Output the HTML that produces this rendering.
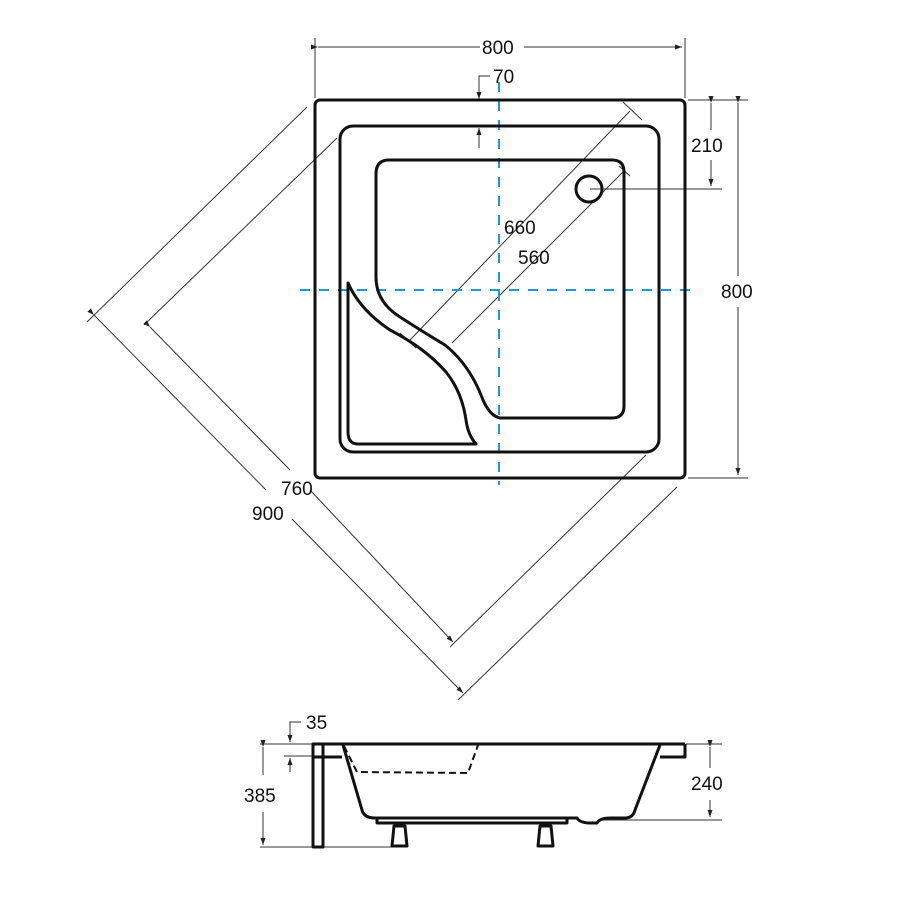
<!DOCTYPE html>
<html><head><style>body{margin:0;background:#fff}svg{display:block}text{font-family:"Liberation Sans",sans-serif;font-size:19px;fill:#111}</style></head>
<body>
<svg width="900" height="900" viewBox="0 0 900 900" xmlns="http://www.w3.org/2000/svg">
<defs><marker id="a" markerWidth="8" markerHeight="8" refX="7" refY="4" orient="auto" markerUnits="userSpaceOnUse"><path d="M0,1.5 L7,4 L0,6.5z" fill="#222"/></marker></defs>
<g stroke="#333" stroke-width="1" fill="none">
<!-- top 800 -->
<line x1="315" y1="38" x2="315" y2="98"/><line x1="685" y1="38" x2="685" y2="98"/>
<line x1="318" y1="47" x2="480" y2="47" marker-start="url(#a)"/><line x1="524" y1="47" x2="682" y2="47" marker-end="url(#a)"/>
<!-- 70 -->
<path d="M490,76 L479,76 L479,99" marker-end="url(#a)"/>
<line x1="479" y1="148" x2="479" y2="128" marker-end="url(#a)"/>
<!-- right 800 -->
<line x1="688" y1="100" x2="748" y2="100"/><line x1="688" y1="478" x2="748" y2="478"/>
<line x1="738" y1="103" x2="738" y2="276" marker-start="url(#a)"/><line x1="738" y1="307" x2="738" y2="475" marker-end="url(#a)"/>
<!-- 210 -->
<line x1="700" y1="100" x2="720" y2="100"/>
<line x1="590" y1="189" x2="722" y2="189"/>
<line x1="711" y1="103" x2="711" y2="130" marker-start="url(#a)"/><line x1="711" y1="160" x2="711" y2="186" marker-end="url(#a)"/>
<!-- diag 660 / 560 -->
<line x1="623" y1="102" x2="642" y2="120"/>
<line x1="630" y1="111" x2="410" y2="340"/>
<line x1="400" y1="333" x2="416" y2="348"/>
<line x1="625" y1="170" x2="452" y2="343"/>
<line x1="619" y1="166" x2="630" y2="176"/>
<!-- 900/760 extension -->
<line x1="307" y1="107" x2="87" y2="322"/>
<line x1="337" y1="138" x2="144" y2="325"/>
<line x1="646" y1="455" x2="450" y2="647"/>
<line x1="677" y1="487" x2="458" y2="700"/>
<!-- 760 dim -->
<line x1="150" y1="327" x2="290" y2="470" marker-start="url(#a)"/>
<line x1="310" y1="490" x2="453" y2="642" marker-end="url(#a)"/>
<!-- 900 dim -->
<line x1="94" y1="315" x2="266" y2="490" marker-start="url(#a)"/>
<line x1="292" y1="519" x2="463" y2="693" marker-end="url(#a)"/>
<!-- bottom dims -->
<path d="M301,722 L290,722 L290,742" marker-end="url(#a)"/>
<line x1="260" y1="744" x2="312" y2="744"/><line x1="284" y1="756" x2="312" y2="756"/>
<line x1="290" y1="772" x2="290" y2="758" marker-end="url(#a)"/>
<line x1="263" y1="747" x2="263" y2="775" marker-start="url(#a)"/><line x1="263" y1="812" x2="263" y2="845" marker-end="url(#a)"/>
<line x1="260" y1="847" x2="392" y2="847"/>
<line x1="686" y1="744" x2="722" y2="744"/><line x1="600" y1="820" x2="722" y2="820"/>
<line x1="710" y1="747" x2="710" y2="768" marker-start="url(#a)"/><line x1="710" y1="800" x2="710" y2="817" marker-end="url(#a)"/>
</g>
<g stroke="#1a9ad6" stroke-width="2" stroke-dasharray="10,9" fill="none">
<line x1="499" y1="82" x2="499" y2="485"/>
<line x1="300" y1="290" x2="695" y2="290"/>
</g>
<g stroke="#111" stroke-width="3" fill="none" stroke-linejoin="round">
<rect x="315" y="100" width="370" height="378" rx="5"/>
<rect x="340" y="126" width="319" height="326" rx="13"/>
<path d="M389,160 L612,160 Q624,160 624,172 L624,406 Q624,418 612,418 L500,418 Q490,416 483,400 Q470,365 445,345 Q420,330 400,317 Q376,302 376,277 L376,174 Q376,160 389,160z"/>
<path d="M348,283 Q360,310 390,330 Q425,348 446,372 Q462,392 466,420 Q468,435 476,444 L358,444 Q348,444 348,432z"/>
<circle cx="589" cy="189" r="13"/>
</g>
<!-- side view -->
<g stroke="#111" stroke-width="3" fill="none" stroke-linejoin="round">
<line x1="313" y1="744" x2="685" y2="744"/>
<rect x="313" y="744" width="10" height="103"/>
<path d="M313,757 L342,757"/>
<path d="M343,745 L362,810 Q364,818 375,818 L577,818 Q580,823 590,823 L597,823 Q600,818 610,818 L625,818 Q633,818 635,810 L660,745"/>
<path d="M660,757 L685,757 L685,744"/>
<rect x="377" y="818" width="190" height="5"/>
<path d="M394,826 L405,826 L407,846 L392,846z"/>
<path d="M540,826 L551,826 L553,846 L538,846z"/>
</g>
<path d="M344,746 L357,772 L468,773 L478,745" stroke="#111" stroke-width="2" stroke-dasharray="7,4" fill="none"/>
<text x="482" y="54">800</text>
<text x="493" y="83">70</text>
<text x="691" y="152">210</text>
<text x="721" y="298">800</text>
<text x="504" y="234">660</text>
<text x="518" y="264">560</text>
<text x="281" y="495">760</text>
<text x="252" y="520">900</text>
<text x="306" y="729">35</text>
<text x="244" y="802">385</text>
<text x="691" y="790">240</text>
</svg>
</body></html>
